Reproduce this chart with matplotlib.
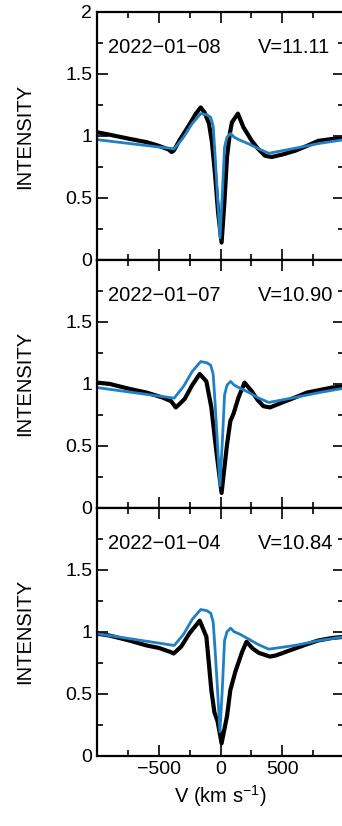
import matplotlib
matplotlib.use("Agg")
import matplotlib.pyplot as plt
from matplotlib.ticker import FixedLocator

plt.rcParams["font.family"] = ["Liberation Sans", "DejaVu Sans"]
plt.rcParams["mathtext.fontset"] = "custom"
plt.rcParams["mathtext.rm"] = "Liberation Sans"
plt.rcParams["mathtext.default"] = "rm"

# observation info (dates printed with long dashes like in the original)
dates = ["2022\u221201\u221208", "2022\u221201\u221207", "2022\u221201\u221204"]
vmags = ["V=11.11", "V=10.90", "V=10.84"]

obs_v1 = [-1000, -900, -739, -600, -500, -420, -397, -380, -330, -260, -200, -161, -130, -94, -70,
          -45, -20, 8, 30, 52, 75, 92, 140, 185, 253, 300, 360, 414, 500, 602, 700, 790, 900, 1000]
obs_i1 = [1.03, 1.01, 0.977, 0.95, 0.92, 0.89, 0.87, 0.88, 0.97, 1.08, 1.18, 1.23, 1.19, 1.10, 0.95,
          0.69, 0.38, 0.14, 0.45, 0.83, 1.02, 1.11, 1.18, 1.07, 0.96, 0.90, 0.84, 0.83, 0.85, 0.88, 0.92, 0.96, 0.975, 0.98]

obs_v2 = [-1000, -900, -739, -600, -470, -400, -363, -330, -290, -230, -169, -115, -75, -35, 8,
          52, 79, 105, 145, 194, 253, 300, 347, 400, 500, 602, 700, 800, 900, 1000]
obs_i2 = [1.01, 1.0, 0.96, 0.93, 0.89, 0.86, 0.81, 0.84, 0.88, 0.99, 1.08, 1.02, 0.81, 0.46, 0.12,
          0.51, 0.70, 0.76, 0.89, 1.01, 0.94, 0.87, 0.82, 0.81, 0.85, 0.89, 0.93, 0.95, 0.97, 0.98]

obs_v3 = [-1000, -900, -739, -600, -500, -400, -380, -320, -250, -169, -115, -75, -50, -25, -10, 8,
          52, 79, 120, 175, 210, 260, 310, 400, 450, 602, 700, 790, 900, 1000]
obs_i3 = [0.985, 0.97, 0.93, 0.89, 0.87, 0.835, 0.825, 0.88, 0.99, 1.09, 0.96, 0.53, 0.35, 0.28, 0.2, 0.10,
          0.32, 0.53, 0.68, 0.84, 0.92, 0.865, 0.83, 0.80, 0.81, 0.865, 0.90, 0.93, 0.95, 0.96]

# model profiles (blue)
mod_v1 = [-1000, -376, -300, -230, -161, -110, -80, -60, -45, -30, -5, 15, 32, 52, 81, 110, 148, 230, 300, 390, 600, 800, 1000]
mod_i1 = [0.97, 0.896, 0.99, 1.10, 1.18, 1.17, 1.15, 1.08, 0.85, 0.60, 0.18, 0.55, 0.91, 0.99, 1.02, 0.99, 0.97, 0.935, 0.90, 0.86, 0.90, 0.94, 0.97]
mod_v2 = [-1000, -376, -300, -230, -161, -110, -80, -60, -45, -30, -5, 15, 32, 52, 81, 110, 148, 230, 300, 390, 600, 800, 1000]
mod_i2 = [0.97, 0.885, 0.98, 1.10, 1.18, 1.17, 1.15, 1.08, 0.85, 0.60, 0.18, 0.55, 0.91, 0.99, 1.02, 0.99, 0.97, 0.93, 0.89, 0.85, 0.89, 0.93, 0.965]
mod_v3 = [-1000, -376, -300, -230, -161, -110, -80, -60, -45, -30, -5, 15, 32, 52, 81, 110, 148, 230, 300, 390, 600, 800, 1000]
mod_i3 = [0.985, 0.89, 0.98, 1.10, 1.18, 1.17, 1.15, 1.08, 0.86, 0.62, 0.195, 0.56, 0.93, 1.0, 1.03, 1.0, 0.985, 0.94, 0.90, 0.86, 0.89, 0.93, 0.96]

obs = [(obs_v1, obs_i1), (obs_v2, obs_i2), (obs_v3, obs_i3)]
mod = [(mod_v1, mod_i1), (mod_v2, mod_i2), (mod_v3, mod_i3)]

fig, axes = plt.subplots(3, 1, figsize=(3.42, 8.26), dpi=100, sharex=True)
fig.subplots_adjust(left=0.284, right=1.006, bottom=0.085, top=0.9855, hspace=0)

for k, ax in enumerate(axes):
    ax.plot(obs[k][0], obs[k][1], color="black", lw=3.0, solid_joinstyle="round")
    ax.plot(mod[k][0], mod[k][1], color="#1f80c4", lw=2.0, solid_joinstyle="round")

    ax.set_xlim(-1000, 1000)
    ax.set_ylim(0, 2)
    ax.xaxis.set_major_locator(FixedLocator([-500, 0, 500]))
    ax.xaxis.set_minor_locator(FixedLocator([-750, -250, 250, 750]))
    ax.yaxis.set_minor_locator(FixedLocator([0.25, 0.75, 1.25, 1.75]))
    ax.tick_params(which="both", direction="in", top=True, right=True, labelsize=14, width=1.2)
    ax.tick_params(which="major", length=8)
    ax.tick_params(which="minor", length=4.5)
    for s in ax.spines.values():
        s.set_linewidth(1.6)

    labels = ["0", "0.5", "1", "1.5", "2"] if k == 0 else ["0", "0.5", "1", "1.5", ""]
    ax.set_yticks([0, 0.5, 1, 1.5, 2])
    ax.set_yticklabels(labels)

    ax.set_ylabel("INTENSITY", fontsize=14.5)
    ax.yaxis.set_label_coords(-0.255, 0.5)

    ax.text(0.045, 0.855, dates[k], transform=ax.transAxes, fontsize=14.5, va="center", ha="left")
    ax.text(0.652, 0.855, vmags[k], transform=ax.transAxes, fontsize=14.5, va="center", ha="left")

axes[-1].set_xlabel("V (km s$^{-1}$)", fontsize=14.5)

plt.savefig("out.png", dpi=100)
